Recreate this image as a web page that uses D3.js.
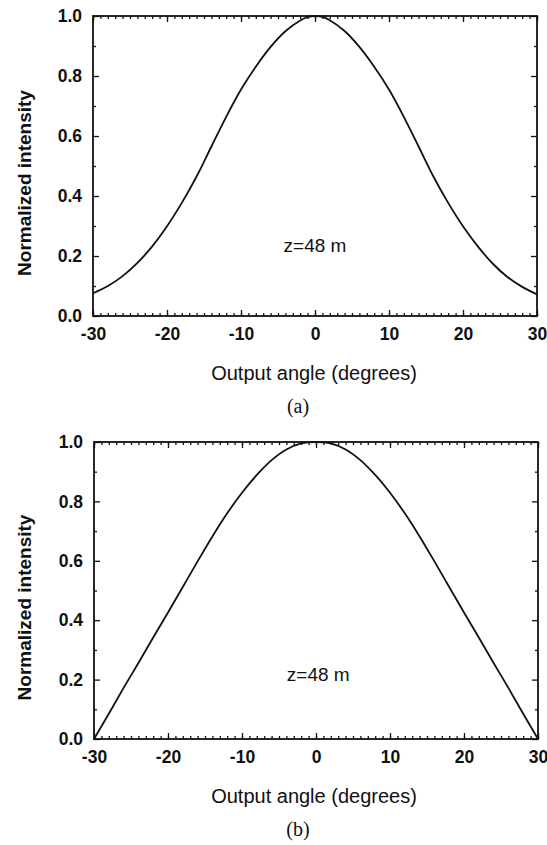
<!DOCTYPE html>
<html>
<head>
<meta charset="utf-8">
<script src="https://cdn.jsdelivr.net/npm/d3@7"></script>
<style>
  body { margin: 0; background: #fff; }
  svg { display: block; }
  text { font-family: "Liberation Sans", Arial, sans-serif; fill: #111; }
</style>
</head>
<body>
<svg width="547" height="845"></svg>
<script>
// data
const angles = [-30, -28, -26, -24, -22, -20, -18, -16, -14, -12, -10, -8, -6, -4, -2, -1,
  0, 1, 2, 4, 6, 8, 10, 12, 14, 16, 18, 20, 22, 24, 26, 28, 30];
const intensityA = [0.076, 0.100, 0.133, 0.177, 0.232, 0.299, 0.377, 0.465, 0.565, 0.664, 0.755,
  0.831, 0.897, 0.949, 0.985, 0.996, 1.0, 0.997, 0.986, 0.950, 0.897, 0.831, 0.755, 0.664,
  0.565, 0.465, 0.377, 0.299, 0.232, 0.175, 0.130, 0.097, 0.072];
const intensityB = [0.0, 0.085, 0.172, 0.256, 0.342, 0.426, 0.512, 0.598, 0.682, 0.760, 0.829,
  0.889, 0.939, 0.975, 0.995, 0.999, 1.0, 0.999, 0.995, 0.975, 0.939, 0.889, 0.829, 0.760,
  0.682, 0.598, 0.512, 0.426, 0.342, 0.256, 0.172, 0.085, 0.0];
const xTickValues = [-30, -20, -10, 0, 10, 20, 30];
const xMinorValues = d3.range(-30, 31, 1);
const yTickValues = [0.0, 0.2, 0.4, 0.6, 0.8, 1.0];
const yMinorValues = [0.1, 0.3, 0.5, 0.7, 0.9];
const panelLabels = ["(a)", "(b)"];
const noteText = "z=48 m";
const xTitle = "Output angle (degrees)";
const yTitle = "Normalized intensity";

const svg = d3.select("svg");

const panels = [
  { left: 93, right: 537, top: 16, bottom: 316, values: intensityA, label: panelLabels[0], note: [0, 0.214] },
  { left: 94, right: 538, top: 442, bottom: 739, values: intensityB, label: panelLabels[1], note: [0.3, 0.194] }
];

panels.forEach(p => {
  const x = d3.scaleLinear().domain([-30, 30]).range([p.left, p.right]);
  const y = d3.scaleLinear().domain([0, 1]).range([p.bottom, p.top]);
  const g = svg.append("g");

  // inward ticks on all four sides
  const addAxis = (axis, tx, ty, withLabels) => {
    const a = g.append("g").attr("transform", `translate(${tx},${ty})`).call(axis);
    a.select(".domain").remove();
    a.selectAll(".tick line").attr("stroke", "#111").attr("stroke-width", 1.3);
    if (!withLabels) a.selectAll("text").remove();
    return a;
  };

  addAxis(d3.axisBottom(x).tickValues(xMinorValues).tickSize(-3).tickFormat(""), 0, p.bottom, false);
  addAxis(d3.axisTop(x).tickValues(xMinorValues).tickSize(-3).tickFormat(""), 0, p.top, false);
  addAxis(d3.axisTop(x).tickValues(xTickValues).tickSize(-6).tickFormat(""), 0, p.top, false);
  const xa = addAxis(d3.axisBottom(x).tickValues(xTickValues).tickSize(-6).tickPadding(12).tickFormat(d => String(d)), 0, p.bottom, true);
  xa.selectAll("text").attr("font-size", 17.5).attr("font-weight", "bold").style("font-family", "Liberation Sans, Arial, sans-serif");

  addAxis(d3.axisLeft(y).tickValues(yMinorValues).tickSize(-3).tickFormat(""), p.left, 0, false);
  addAxis(d3.axisRight(y).tickValues(yMinorValues).tickSize(-3).tickFormat(""), p.right, 0, false);
  addAxis(d3.axisRight(y).tickValues(yTickValues).tickSize(-6).tickFormat(""), p.right, 0, false);
  const ya = addAxis(d3.axisLeft(y).tickValues(yTickValues).tickSize(-6).tickPadding(11).tickFormat(d3.format(".1f")), p.left, 0, true);
  ya.selectAll("text").attr("font-size", 17.5).attr("font-weight", "bold").style("font-family", "Liberation Sans, Arial, sans-serif");

  // frame
  g.append("rect")
    .attr("x", p.left).attr("y", p.top)
    .attr("width", p.right - p.left).attr("height", p.bottom - p.top)
    .attr("fill", "none").attr("stroke", "#111").attr("stroke-width", 1.8);

  // curve
  const line = d3.line()
    .x((d, i) => x(angles[i]))
    .y(d => y(d))
    .curve(d3.curveCatmullRom);
  g.append("path")
    .datum(p.values)
    .attr("fill", "none")
    .attr("stroke", "#111")
    .attr("stroke-width", 1.8)
    .attr("d", line);

  // annotation
  g.append("text")
    .attr("x", x(p.note[0])).attr("y", y(p.note[1]))
    .attr("text-anchor", "middle")
    .attr("font-size", 19)
    .text(noteText);

  // axis titles
  g.append("text")
    .attr("x", 314).attr("y", p.bottom + 64)
    .attr("text-anchor", "middle")
    .attr("font-size", 20)
    .text(xTitle);

  g.append("text")
    .attr("transform", `translate(31,${(p.top + p.bottom) / 2 + 17}) rotate(-90)`)
    .attr("text-anchor", "middle")
    .attr("font-size", 19)
    .attr("font-weight", "bold")
    .text(yTitle);

  g.append("text")
    .attr("x", 298).attr("y", p.bottom + 97)
    .attr("text-anchor", "middle")
    .style("font-family", "Liberation Serif, Times New Roman, serif")
    .attr("font-size", 20)
    .text(p.label);
});
</script>
</body>
</html>
